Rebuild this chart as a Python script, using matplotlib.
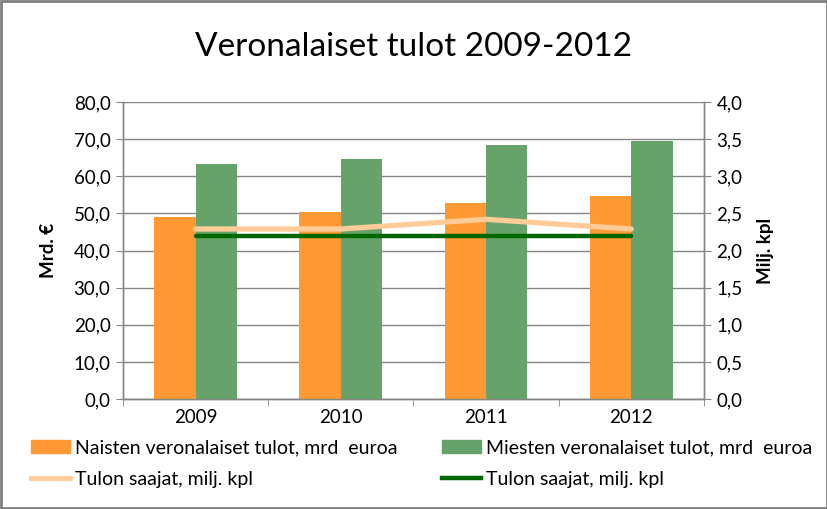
import numpy as np
import matplotlib
matplotlib.use("Agg")
import matplotlib.pyplot as plt
from matplotlib.patches import Rectangle, Patch
from matplotlib.lines import Line2D
from matplotlib.ticker import FuncFormatter, MultipleLocator

# data
years = ["2009", "2010", "2011", "2012"]
naiset = [49.0, 50.5, 52.9, 54.7]      # mrd euroa
miehet = [63.4, 64.7, 68.3, 69.5]      # mrd euroa
saajat_a = [2.29, 2.29, 2.42, 2.29]    # milj. kpl (light line)
saajat_b = [2.20, 2.20, 2.20, 2.20]    # milj. kpl (dark line)

plt.rcParams['font.family'] = ['Lato', 'DejaVu Sans']

orange = '#FF9933'
green = '#66A36A'
light = '#FFCC99'
dark = '#006600'
grid = '#868686'

fig = plt.figure(figsize=(8.28, 5.09), dpi=100)
ax = fig.add_axes([0.1486, 0.2161, 0.7015, 0.5835])
ax2 = ax.twinx()

x = np.arange(len(years))
w = 0.285
ax.bar(x - w/2, naiset, w, color=orange, zorder=3)
ax.bar(x + w/2, miehet, w, color=green, zorder=3)
ax.set_xlim(-0.5, len(years) - 0.5)
ax.set_ylim(0, 80)
ax.yaxis.set_major_locator(MultipleLocator(10))
ax.yaxis.grid(True, color=grid, linewidth=1, zorder=0)
ax.set_axisbelow(True)

ax2.plot(x, saajat_a, color=light, linewidth=3.8, solid_capstyle='round', zorder=4)
ax2.plot(x, saajat_b, color=dark, linewidth=3.2, solid_capstyle='round', zorder=5)
ax2.set_ylim(0, 4)
ax2.yaxis.set_major_locator(MultipleLocator(0.5))

fmt1 = FuncFormatter(lambda v, p: ("%.1f" % v).replace('.', ','))
ax.yaxis.set_major_formatter(fmt1)
ax2.yaxis.set_major_formatter(fmt1)

ax.set_xticks(x)
ax.set_xticklabels(years)
ax.set_xticks(np.arange(-0.5, len(years)), minor=True)
ax.tick_params(axis='x', which='major', length=0, pad=7, labelsize=13.5)
ax.tick_params(axis='x', which='minor', length=5, color=grid, direction='out')
ax.tick_params(axis='y', length=5, color=grid, labelsize=13.5, pad=4)
ax2.tick_params(axis='y', length=5, color=grid, labelsize=13.5, pad=4)

for a in (ax, ax2):
    a.spines['top'].set_visible(False)
    for s in ('left', 'right', 'bottom'):
        a.spines[s].set_color(grid)
        a.spines[s].set_linewidth(1)

ax.set_ylabel("Mrd. €", fontsize=13.5, fontweight='bold', labelpad=12)
ax2.set_ylabel("Milj. kpl", fontsize=13.5, fontweight='bold', labelpad=10)

fig.text(0.5, 0.907, "Veronalaiset tulot 2009-2012", ha='center', va='center', fontsize=24)

handles = [Patch(color=orange), Line2D([], [], color=light, linewidth=3.5),
           Patch(color=green), Line2D([], [], color=dark, linewidth=3.2)]
labels = ["Naisten veronalaiset tulot, mrd  euroa", "Tulon saajat, milj. kpl",
          "Miesten veronalaiset tulot, mrd  euroa", "Tulon saajat, milj. kpl"]
fig.legend(handles, labels, ncol=2, loc='upper left', bbox_to_anchor=(0.028, 0.152),
           frameon=False, fontsize=14, handlelength=2.0, handleheight=0.7,
           handletextpad=0.25, columnspacing=2.3, labelspacing=0.75, borderaxespad=0)

fig.patches.append(Rectangle((0.0015, 0.0025), 0.997, 0.995, transform=fig.transFigure,
                             fill=False, edgecolor='#7F7F7F', linewidth=2))

fig.savefig("out.png", dpi=100)
